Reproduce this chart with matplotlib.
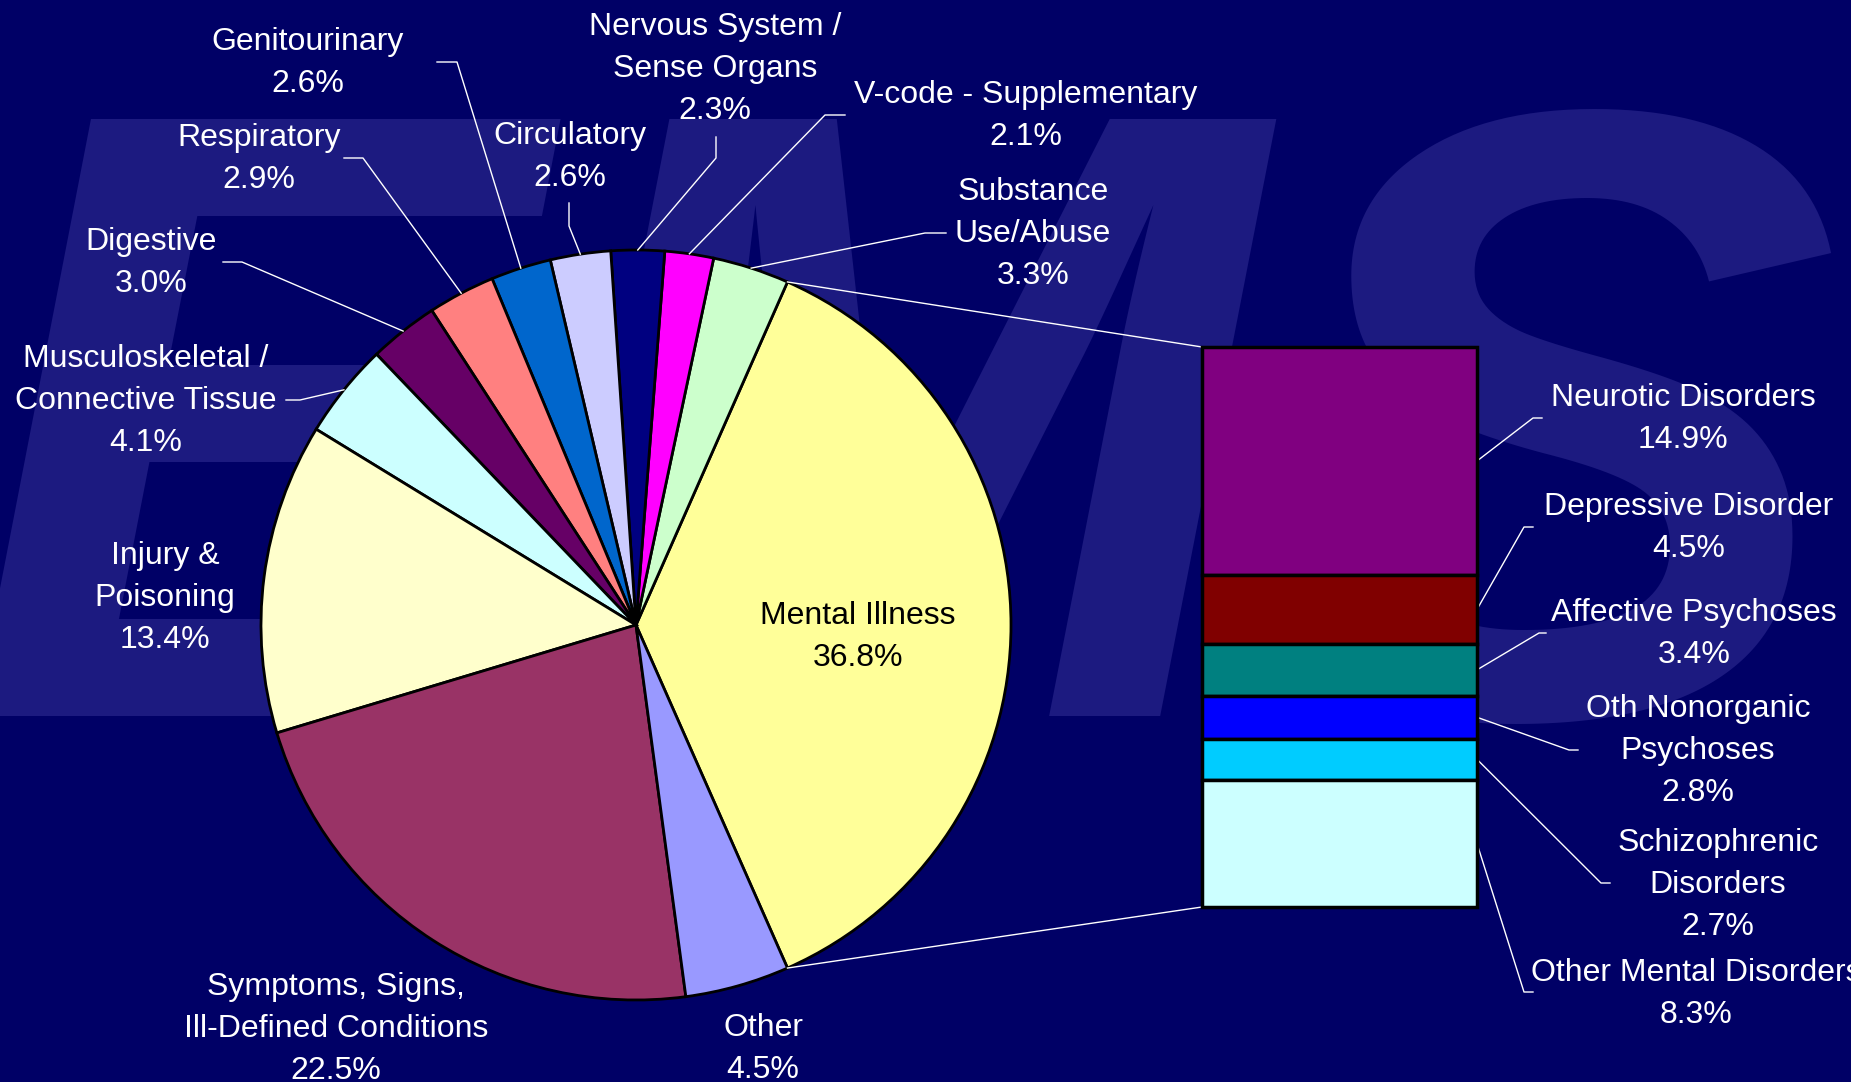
import matplotlib.pyplot as plt
import numpy as np

plt.rcParams['font.family'] = ['Liberation Sans', 'DejaVu Sans']

W, H = 1851, 1082
BG = '#000066'
WATERMARK = '#1c1a80'

# pie data, counter-clockwise starting with the exploded slice
pie_labels = ['Mental Illness', 'Substance\nUse/Abuse', 'V-code - Supplementary',
              'Nervous System /\nSense Organs', 'Circulatory', 'Genitourinary',
              'Respiratory', 'Digestive', 'Musculoskeletal /\nConnective Tissue',
              'Injury &\nPoisoning', 'Symptoms, Signs,\nIll-Defined Conditions', 'Other']
pie_values = [36.8, 3.3, 2.1, 2.3, 2.6, 2.6, 2.9, 3.0, 4.1, 13.4, 22.5, 4.5]
pie_colors = ['#FFFF99', '#CCFFCC', '#FF00FF', '#000080', '#CCCCFF', '#0066CC',
              '#FF8080', '#660066', '#CCFFFF', '#FFFFCC', '#993366', '#9999FF']

# bar of pie (mental illness breakdown), top to bottom
bar_labels = ['Neurotic Disorders', 'Depressive Disorder', 'Affective Psychoses',
              'Oth Nonorganic\nPsychoses', 'Schizophrenic\nDisorders', 'Other Mental Disorders']
bar_values = [14.9, 4.5, 3.4, 2.8, 2.7, 8.3]
bar_colors = ['#800080', '#800000', '#008080', '#0000FF', '#00CCFF', '#CCFFFF']

# label placement in pixels from the top-left corner
pie_label_pos = [(858, 633), (1033, 230), (1026, 112), (715, 65), (570, 153), (308, 59),
                 (259, 155), (151, 259), (146, 397), (165, 594), (336, 1025), (763, 1045)]
# leader elbows (label end, bend); None = no leader
pie_leaders = [None, [(946, 233), (925, 233)], [(845, 115), (825, 115)],
               [(716, 137), (716, 158)], [(569, 203), (569, 226)], [(437, 62), (457, 62)],
               [(344, 158), (363, 158)], [(223, 262), (242, 262)], [(286, 400), (300, 400)],
               None, None, None]
bar_label_pos = [(1683, 415), (1689, 524), (1694, 630), (1698, 747), (1718, 881), (1696, 990)]
bar_leaders = [[(1542, 418), (1533, 418)], [(1533, 527), (1524, 527)],
               [(1546, 633), (1539, 633)], [(1578, 750), (1569, 750)],
               [(1610, 883), (1601, 883)], [(1533, 992), (1524, 992)]]

FS = 23
LS = 1.52
DY = 4


def Y(y):
    return H - y


fig = plt.figure(figsize=(W / 100, H / 100), dpi=100, facecolor=BG)
ax = fig.add_axes([0, 0, 1, 1])
ax.set_facecolor(BG)

# background watermark
ax.text(-40, Y(716), 'EMS', fontsize=625, fontweight='bold', fontstyle='italic',
        color=WATERMARK, ha='left', va='baseline', zorder=0)

cx, cy, r = 636, Y(625), 375
total = sum(pie_values)
wedges, _ = ax.pie(pie_values, colors=pie_colors, startangle=-pie_values[0] / total * 180,
                   counterclock=True, center=(cx, cy), radius=r,
                   wedgeprops=dict(edgecolor='black', linewidth=2))
for w in wedges:
    w.set_zorder(2)
ax.set_xlim(0, W)
ax.set_ylim(0, H)
ax.axis('off')

for i, w in enumerate(wedges):
    txt = pie_labels[i] + '\n' + f'{pie_values[i]:.1f}%'
    col = 'black' if i == 0 else 'white'
    x, y = pie_label_pos[i]
    ax.text(x, Y(y + DY), txt, ha='center', va='center', color=col, fontsize=FS,
            linespacing=LS, zorder=5)
    if pie_leaders[i] is not None:
        mid = np.deg2rad((w.theta1 + w.theta2) / 2)
        px, py = cx + r * np.cos(mid), cy + r * np.sin(mid)
        (x0, y0), (x1, y1) = pie_leaders[i]
        ax.plot([x0, x1, px], [Y(y0), Y(y1), py], color='white', lw=1, zorder=4)

# stacked bar
btop, bbot, bleft, bright = 347, 907, 1202, 1477
bax = fig.add_axes([bleft / W, Y(bbot) / H, (bright - bleft) / W, (bbot - btop) / H])
bottoms = np.cumsum([0] + bar_values[:-1])
bars = bax.bar(0, bar_values, bottom=bottoms, width=1, color=bar_colors,
               edgecolor='black', linewidth=2.5, clip_on=False)
bax.set_xlim(-0.5, 0.5)
bax.set_ylim(sum(bar_values), 0)
bax.axis('off')

for i, b in enumerate(bars):
    mid = bottoms[i] + bar_values[i] / 2
    px, py = bax.transData.transform((0.5, mid))
    (x0, y0), (x1, y1) = bar_leaders[i]
    ax.plot([x0, x1, px], [Y(y0), Y(y1), py], color='white', lw=1, zorder=4)
    x, y = bar_label_pos[i]
    ax.text(x, Y(y + DY), bar_labels[i] + '\n' + f'{bar_values[i]:.1f}%', ha='center',
            va='center', color='white', fontsize=FS, linespacing=LS, zorder=5)

# connectors from the mental illness slice to the bar
mw = wedges[0]
tl = bax.transData.transform((-0.5, 0))
bl = bax.transData.transform((-0.5, sum(bar_values)))
for ang, corner in [(mw.theta2, tl), (mw.theta1, bl)]:
    a = np.deg2rad(ang)
    ax.plot([cx + r * np.cos(a), corner[0]], [cy + r * np.sin(a), corner[1]],
            color='white', lw=1, zorder=4)

fig.savefig('out.png', dpi=100, facecolor=BG)
